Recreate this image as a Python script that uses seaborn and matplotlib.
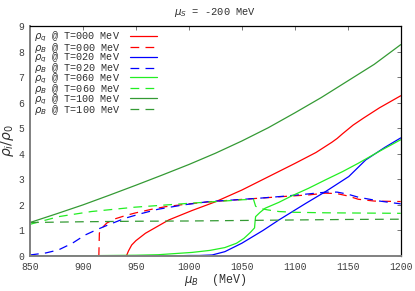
import numpy as np
import pandas as pd
import matplotlib
matplotlib.use("Agg")
import matplotlib.pyplot as plt
import seaborn as sns

# ---- data ----
x_q0 = [850, 941, 943, 946, 950, 959, 970, 981, 1003, 1025, 1050, 1075, 1100, 1120, 1135, 1140, 1145, 1155, 1165, 1180, 1200]
y_q0 = [0, 0, 0.2, 0.43, 0.6, 0.89, 1.15, 1.41, 1.78, 2.12, 2.58, 3.1, 3.62, 4.05, 4.45, 4.6, 4.78, 5.12, 5.4, 5.8, 6.27]

x_b0 = [915, 915.5, 918, 922.5, 930, 940, 949, 965, 978, 1000, 1022, 1045, 1066, 1090, 1113, 1129, 1140, 1150, 1160, 1175, 1200]
y_b0 = [0, 0.9, 1.1, 1.29, 1.45, 1.58, 1.68, 1.83, 1.93, 2.04, 2.13, 2.2, 2.26, 2.33, 2.39, 2.46, 2.44, 2.35, 2.22, 2.15, 2.13]

x_q20 = [850, 980, 1000, 1010, 1022, 1034, 1050, 1070, 1085, 1110, 1129, 1151, 1167, 1185, 1200]
y_q20 = [0, 0, 0.02, 0.02, 0.04, 0.17, 0.5, 1.0, 1.41, 2.05, 2.52, 3.11, 3.76, 4.25, 4.62]

x_b20 = [850, 865, 877, 890, 902, 913, 924, 940, 955, 971, 995, 1019, 1045, 1066, 1090, 1113, 1130, 1140, 1150, 1160, 1180, 1200]
y_b20 = [0.04, 0.12, 0.24, 0.5, 0.82, 1.03, 1.22, 1.48, 1.66, 1.83, 2.0, 2.13, 2.2, 2.26, 2.34, 2.43, 2.5, 2.5, 2.42, 2.3, 2.15, 2.04]

x_q60 = [850, 900, 950, 971, 1003, 1020, 1034, 1045, 1052, 1058, 1062, 1062.5, 1063, 1067, 1072, 1085, 1097, 1113, 1129, 1145, 1160, 1180, 1200]
y_q60 = [0, 0.01, 0.03, 0.05, 0.14, 0.22, 0.33, 0.5, 0.69, 0.92, 1.1, 1.35, 1.54, 1.7, 1.87, 2.1, 2.35, 2.65, 2.98, 3.3, 3.63, 4.1, 4.55]

x_b60 = [850, 877, 908, 949, 1003, 1040, 1050, 1061, 1063, 1066, 1075, 1085, 1100, 1130, 1200]
y_b60 = [1.24, 1.54, 1.74, 1.91, 2.07, 2.17, 2.2, 2.22, 1.95, 1.87, 1.8, 1.74, 1.71, 1.69, 1.67]

x_q100 = [850, 875, 900, 925, 950, 975, 1000, 1025, 1050, 1075, 1100, 1125, 1150, 1175, 1200]
y_q100 = [1.31, 1.65, 2.0, 2.38, 2.77, 3.17, 3.58, 4.02, 4.5, 5.02, 5.6, 6.2, 6.85, 7.5, 8.27]

x_b100 = [850, 900, 950, 1000, 1050, 1100, 1150, 1200]
y_b100 = [1.31, 1.34, 1.36, 1.37, 1.39, 1.41, 1.43, 1.44]

labels = [r"$\rho_q$ @ T=000 MeV", r"$\rho_B$ @ T=000 MeV",
          r"$\rho_q$ @ T=020 MeV", r"$\rho_B$ @ T=020 MeV",
          r"$\rho_q$ @ T=060 MeV", r"$\rho_B$ @ T=060 MeV",
          r"$\rho_q$ @ T=100 MeV", r"$\rho_B$ @ T=100 MeV"]
xticks = [850, 900, 950, 1000, 1050, 1100, 1150, 1200]
yticks = [0, 1, 2, 3, 4, 5, 6, 7, 8, 9]

series = [(x_q0, y_q0), (x_b0, y_b0), (x_q20, y_q20), (x_b20, y_b20),
          (x_q60, y_q60), (x_b60, y_b60), (x_q100, y_q100), (x_b100, y_b100)]
colors = ["#ff0000", "#ff0000", "#0000ff", "#0000ff",
          "#22ee22", "#22ee22", "#349a34", "#349a34"]
dashed = [False, True] * 4

sns.set_style("white")
plt.rcParams["font.family"] = ["Liberation Mono", "DejaVu Sans"]
plt.rcParams["mathtext.fontset"] = "dejavusans"

fig = plt.figure(figsize=(4.15, 2.91), dpi=100)
ax = fig.add_axes([30/415, 1 - 256/291, (400.7 - 30)/415, (256 - 26)/291])

for (xs, ys), c, d, lab in zip(series, colors, dashed, labels):
    df = pd.DataFrame({"x": xs, "y": ys})
    ls = (0, (7, 5)) if d else "-"
    sns.lineplot(data=df, x="x", y="y", ax=ax, color=c, lw=0.9, sort=False,
                 estimator=None, label=lab, linestyle=ls)

ax.set_xlim(850, 1200)
ax.set_ylim(0, 9)
ax.set_xticks(xticks)
ax.set_yticks(yticks)
ax.tick_params(direction="in", length=3, width=0.6, colors="#606060",
               labelsize=7, top=True, right=True)
ax.tick_params(axis="x", pad=4.5)
ax.tick_params(axis="y", pad=4)
for t in ax.get_xticklabels() + ax.get_yticklabels():
    t.set_color("#404040")
for s in ["left", "bottom"]:
    ax.spines[s].set_color("#808080")
    ax.spines[s].set_linewidth(1.4)
for s in ["top", "right"]:
    ax.spines[s].set_color("#000000")
    ax.spines[s].set_linewidth(0.9)

ax.set_xlabel(r"$\mu_B$  (MeV)", fontsize=8.5, labelpad=0, color="#303030")
ax.set_ylabel(r"$\rho_i/\rho_0$", fontsize=10, labelpad=1.5, color="#303030")
ax.set_title(r"$\mu_S$ = -200 MeV", fontsize=7.5, pad=8, color="#303030")

leg = ax.legend(loc="upper left", frameon=False, markerfirst=False,
                fontsize=7.3, labelspacing=-0.38, handlelength=2.7,
                handletextpad=0.9, borderaxespad=0.2, borderpad=0.2)
for t in leg.get_texts():
    t.set_color("#303030")

fig.savefig("out.png", dpi=100)
